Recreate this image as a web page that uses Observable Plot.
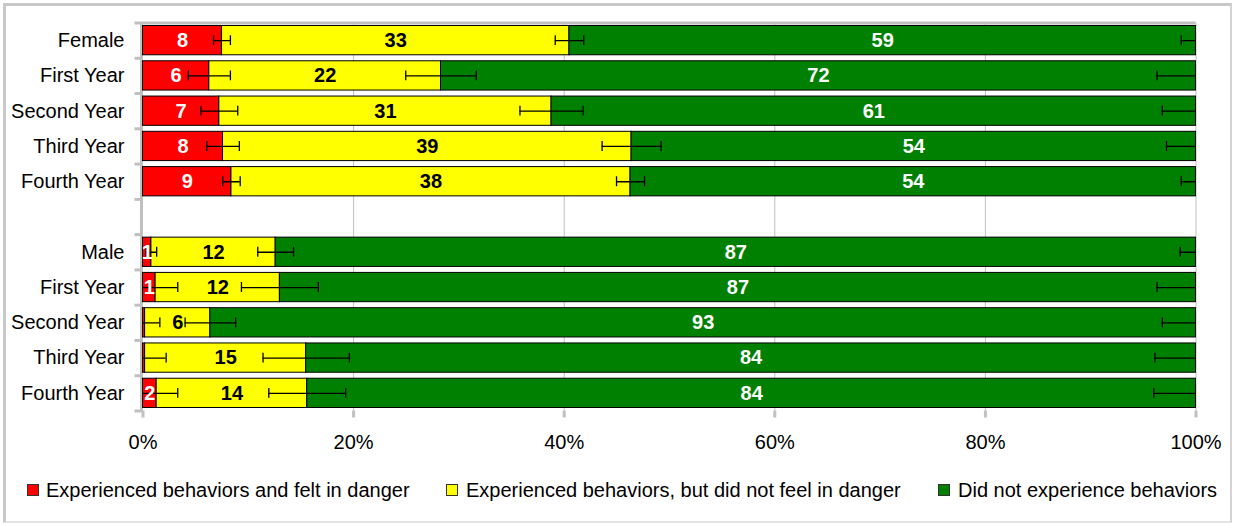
<!DOCTYPE html>
<html>
<head>
<meta charset="utf-8">
<script src="https://cdn.jsdelivr.net/npm/d3@7"></script>
<script src="https://cdn.jsdelivr.net/npm/@observablehq/plot@0.6"></script>
<style>
  body { margin: 0; background: #fff; font-family: "Liberation Sans", Arial, sans-serif; }
  #wrap { position: relative; width: 1233px; height: 525px; overflow: hidden; }
  #border { position: absolute; left: 3px; top: 3px; width: 1229px; height: 520px; box-sizing: border-box;
    border-top: 3px solid #c8c8c8; border-left: 3px solid #c8c8c8; border-right: 2px solid #d4d4d4; border-bottom: 2px solid #e4e4e4; }
  #chart { position: absolute; left: 0; top: 0; }
  .lg { position: absolute; top: 479px; height: 22px; line-height: 22px; font-size: 20px; color: #000; white-space: nowrap; }
  .sw { position: absolute; top: 484px; width: 10px; height: 10px; border: 1px solid #333; }
</style>
</head>
<body>
<div id="wrap">
  <div id="border"></div>
  <div id="chart"></div>
  <div id="legend"></div>
</div>
<script>
// ---- data ----
const categories = ["Female", "First Year", "Second Year", "Third Year", "Fourth Year", "",
                    "Male", "First Year", "Second Year", "Third Year", "Fourth Year"];
const red    = [7.5, 6.3, 7.25, 7.6, 8.4, null, 0.8, 1.2, 0.2, 0.2, 1.3];
const yellow = [33.0, 22.0, 31.55, 38.8, 37.9, null, 11.8, 11.8, 6.2, 15.3, 14.3];
const green  = [59.5, 71.7, 61.2, 53.6, 53.7, null, 87.4, 87.0, 93.6, 84.5, 84.4];
const redLabels    = ["8", "6", "7", "8", "9", "", "1", "1", "", "", "2"];
const yellowLabels = ["33", "22", "31", "39", "38", "", "12", "12", "6", "15", "14"];
const greenLabels  = ["59", "72", "61", "54", "54", "", "87", "87", "93", "84", "84"];
const errRed    = [0.8, 2.0, 1.75, 1.55, 0.83, null, 0.5, 2.1, 1.4, 2.0, 2.0];
const errYellow = [1.35, 3.35, 3.0, 2.8, 1.33, null, 1.7, 3.65, 2.4, 4.1, 3.65];
const errGreen  = [1.4, 3.7, 3.2, 2.8, 1.4, null, 1.5, 3.7, 3.2, 3.9, 4.0];
const seriesNames  = ["Experienced behaviors and felt in danger",
                      "Experienced behaviors, but did not feel in danger",
                      "Did not experience behaviors"];
const seriesColors = ["#ff0000", "#ffff00", "#008000"];
const textColors   = ["#ffffff", "#000000", "#ffffff"];
const xTicks = [0, 20, 40, 60, 80, 100];

// ---- derived tables ----
const segments = [], errs = [];
categories.forEach((c, i) => {
  if (red[i] == null) return;
  const vals = [red[i], yellow[i], green[i]];
  const labs = [redLabels[i], yellowLabels[i], greenLabels[i]];
  const es = [errRed[i], errYellow[i], errGreen[i]];
  let acc = 0;
  vals.forEach((v, k) => {
    segments.push({i, x1: acc, x2: acc + v, color: seriesColors[k], label: labs[k], tc: textColors[k]});
    acc += v;
    errs.push({i, c: acc, e: es[k]});
  });
});
const caps = errs.flatMap(d => [{i: d.i, x: d.c - d.e}, {i: d.i, x: d.c + d.e}]);
const rowIdx = categories.map((c, i) => i);
const bounds = d3.range(-0.5, categories.length, 1);
const half = 0.415, capHalf = 0.14;

const chart = Plot.plot({
  width: 1233, height: 470,
  marginLeft: 142.5, marginRight: 37.5, marginTop: 22.5, marginBottom: 59.5,
  x: {domain: [0, 100], label: null},
  y: {domain: [-0.5, categories.length - 0.5], reverse: true, label: null},
  style: {fontFamily: "'Liberation Sans', Arial, sans-serif", fontSize: "20px", color: "#000", background: "transparent", overflow: "visible"},
  marks: [
    Plot.gridX([20, 40, 60, 80, 100], {stroke: "#c0c0c0", strokeOpacity: 1, strokeWidth: 1}),
    Plot.axisX(xTicks, {tickSize: 7, tickFormat: () => "", stroke: "#c0c0c0", strokeWidth: 3, label: null}),
    Plot.axisX(xTicks, {tickSize: 0, tickPadding: 24, tickFormat: d => d + "%", fontSize: 20, fill: "#000", label: null}),
    Plot.axisY(bounds, {tickSize: 8, tickFormat: () => "", stroke: "#c0c0c0", strokeWidth: 3, label: null}),
    Plot.axisY(rowIdx, {tickSize: 0, tickPadding: 18.5, tickFormat: i => categories[i], fontSize: 20, fill: "#000", label: null}),
    Plot.ruleY([-0.5], {stroke: "#c0c0c0", strokeWidth: 3}),
    Plot.ruleX([0], {stroke: "#c0c0c0", strokeWidth: 3, dx: -1.5}),
    Plot.rectX(segments, {x1: "x1", x2: "x2", y1: d => d.i - half, y2: d => d.i + half,
      fill: "color", stroke: "#000", strokeWidth: 1}),
    Plot.ruleY(errs, {y: "i", x1: d => d.c - d.e, x2: d => d.c + d.e, stroke: "#000", strokeWidth: 1.3, clip: true}),
    Plot.ruleX(caps, {x: "x", y1: d => d.i - capHalf, y2: d => d.i + capHalf, stroke: "#000", strokeWidth: 1.3, clip: true}),
    Plot.text(segments, {x: d => (d.x1 + d.x2) / 2, y: "i", text: "label", fill: "tc",
      fontWeight: "bold", fontSize: 20})
  ]
});
document.getElementById("chart").appendChild(chart);

// ---- legend (HTML, below the svg) ----
const legend = document.getElementById("legend");
const swX = [27, 446, 938], txX = [46, 466, 958];
seriesNames.forEach((name, k) => {
  const sw = document.createElement("div");
  sw.className = "sw"; sw.style.left = swX[k] + "px"; sw.style.background = seriesColors[k];
  legend.appendChild(sw);
  const t = document.createElement("div");
  t.className = "lg"; t.style.left = txX[k] + "px"; t.textContent = name;
  legend.appendChild(t);
});
</script>
</body>
</html>
